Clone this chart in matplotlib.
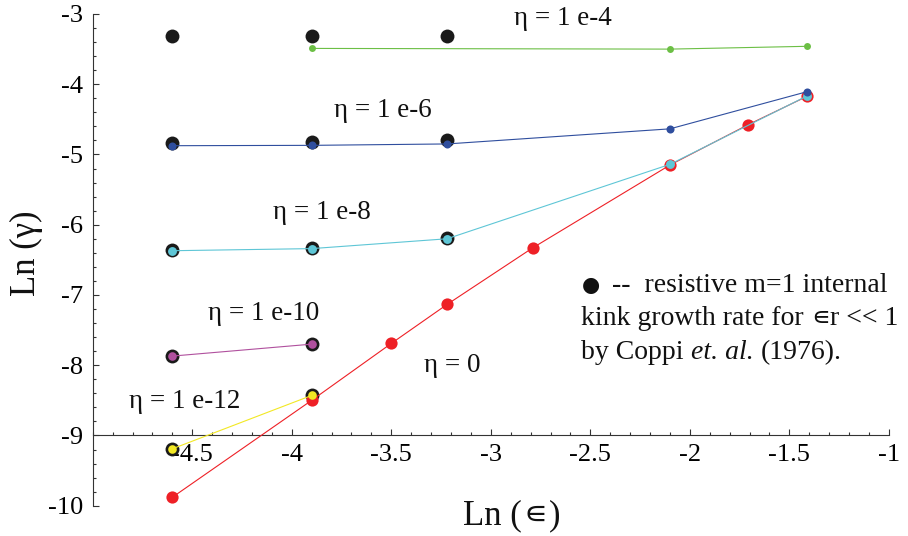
import matplotlib
matplotlib.use("Agg")
import matplotlib.pyplot as plt
from matplotlib.offsetbox import TextArea, HPacker, AnnotationBbox
import numpy as np

plt.rcParams['font.family'] = ['Liberation Serif', 'DejaVu Serif', 'DejaVu Sans']
plt.rcParams['axes.unicode_minus'] = False

# Ln(eps) / Ln(gamma) values for each resistivity
coppi_x = [-4.6, -3.9, -3.22, -4.6, -3.9, -3.22, -4.6, -3.9, -3.22, -4.6, -3.9, -4.6, -3.9]
coppi_y = [-3.31, -3.31, -3.31, -4.83, -4.82, -4.80, -6.36, -6.33, -6.19, -7.87, -7.70, -9.19, -8.42]

eta4_x = [-3.9, -2.1, -1.41]
eta4_y = [-3.49, -3.50, -3.46]

eta6_x = [-4.6, -3.9, -3.22, -2.1, -1.41]
eta6_y = [-4.875, -4.87, -4.85, -4.635, -4.105]

eta8_x = [-4.6, -3.9, -3.22, -2.1, -1.41]
eta8_y = [-6.37, -6.34, -6.20, -5.14, -4.165]

eta10_x = [-4.6, -3.9]
eta10_y = [-7.87, -7.70]

eta12_x = [-4.6, -3.9]
eta12_y = [-9.19, -8.43]

eta0_x = [-4.6, -3.9, -3.5, -3.22, -2.79, -2.1, -1.71, -1.41]
eta0_y = [-9.88, -8.50, -7.69, -7.135, -6.33, -5.15, -4.58, -4.17]

x_ticks = [-4.5, -4, -3.5, -3, -2.5, -2, -1.5, -1]
y_ticks = [-3, -4, -5, -6, -7, -8, -9, -10]

INK = '#111111'


def mixed(parts, sep=0):
    """Row of text pieces in different fonts, sharing one baseline."""
    kids = [TextArea(s, textprops=dict(color=INK, **p)) for s, p in parts]
    return HPacker(children=kids, align='baseline', pad=0, sep=sep)


fig = plt.figure(figsize=(9.08, 5.36), dpi=100)
ax = fig.add_axes([0.1021, 0.0565, 0.8769, 0.9174])
ax.set_xlim(-5, -1)
ax.set_ylim(-10, -3)

ax.spines['top'].set_visible(False)
ax.spines['right'].set_visible(False)
ax.spines['left'].set_position(('data', -5))
ax.spines['bottom'].set_position(('data', -9))
for s in ('left', 'bottom'):
    ax.spines[s].set_color('#333333')
    ax.spines[s].set_linewidth(0.8)

ax.set_xticks(x_ticks)
ax.set_xticklabels([f'{v:g}' for v in x_ticks])
ax.set_yticks(y_ticks)
ax.set_yticklabels([f'{v:g}' for v in y_ticks])
ax.set_xticks(np.arange(-5, -0.95, 0.1), minor=True)
ax.set_yticks(np.arange(-10, -2.95, 0.2), minor=True)
ax.tick_params(which='both', direction='in', color='#333333', width=0.8)
ax.tick_params(which='major', length=4.3, labelsize=19, pad=6)
ax.tick_params(which='minor', length=2.2)
ax.tick_params(axis='y', pad=7)

ax.plot(coppi_x, coppi_y, 'o', color='#1a1a1a', ms=10, mec='none', zorder=2)
ax.plot(eta0_x, eta0_y, '-o', color='#ee2026', lw=0.8, ms=8.8, mec='none', zorder=3)
ax.plot(eta12_x, eta12_y, '-o', color='#f2e824', lw=0.8, ms=6.2, mec='none', zorder=4)
ax.plot(eta10_x, eta10_y, '-o', color='#b0509e', lw=0.8, ms=6.2, mec='none', zorder=4)
ax.plot(eta8_x, eta8_y, '-o', color='#5ec6d6', lw=0.8, ms=6.4, mec='none', zorder=5)
ax.plot(eta6_x, eta6_y, '-o', color='#2f4e9e', lw=0.8, ms=5.8, mec='none', zorder=6)
ax.plot(eta4_x, eta4_y, '-o', color='#6cbf45', lw=0.8, ms=5.0, mec='none', zorder=6)

lab = dict(fontsize=19.5, ha='center', va='center', color=INK)
ax.text(-2.64, -3.06, 'η = 1 e-4', **lab)
ax.text(-3.543, -4.37, 'η = 1 e-6', **lab)
ax.text(-3.849, -5.83, 'η = 1 e-8', **lab)
ax.text(-4.14, -7.26, 'η = 1 e-10', **lab)
ax.text(-4.537, -8.51, 'η = 1 e-12', **lab)
ax.text(-3.192, -8.01, 'η = 0', **lab)

# note about the black markers
serif = dict(fontsize=20)
elem = dict(fontsize=19, family='DejaVu Sans')
dot = ax.text(-2.545, -6.86, '●', fontsize=15, family='DejaVu Sans',
              ha='left', va='center', color=INK)
ax.annotate('--  resistive m=1 internal', xy=(1, 0.5), xycoords=dot,
            xytext=(9, 0), textcoords='offset points', ha='left', va='center',
            color=INK, **serif)
line2 = HPacker(children=[mixed([('kink growth rate for', serif)]),
                          mixed([('∊', elem), ('r << 1', serif)])],
                align='baseline', pad=0, sep=5)
line3 = mixed([('by Coppi', serif), ('et. al.', dict(style='italic', **serif)),
               ('(1976).', serif)], sep=5)
for box, yv in ((line2, -7.33), (line3, -7.815)):
    ax.add_artist(AnnotationBbox(box, (-2.545, yv), xycoords='data',
                                 box_alignment=(0, 0.5), frameon=False, pad=0))

fig.text(26 / 908, 1 - 253 / 536, 'Ln (γ)', rotation=90, fontsize=25,
         ha='center', va='center', color=INK)
xlab = mixed([('Ln (', dict(fontsize=25)), ('∊', dict(fontsize=24, family='DejaVu Sans')),
              (')', dict(fontsize=25))], sep=1)
fig.add_artist(AnnotationBbox(xlab, (512 / 908, 1 - 515 / 536), xycoords='figure fraction',
                              box_alignment=(0.5, 0.5), frameon=False, pad=0))

fig.savefig('out.png', dpi=100)
